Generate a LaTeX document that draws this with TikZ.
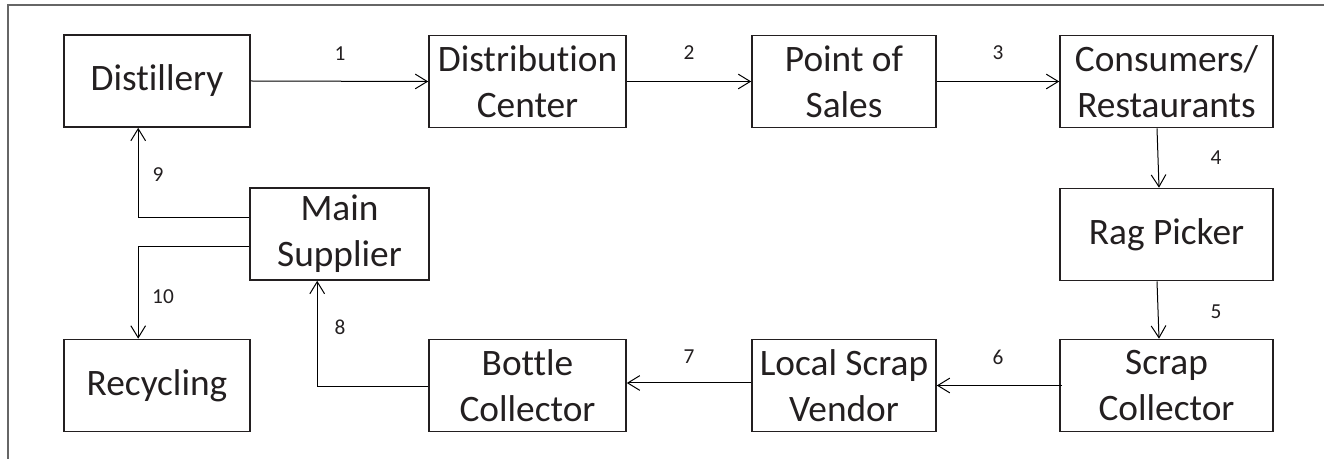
\documentclass[tikz,border=0pt]{standalone}
\usepackage{fontspec}
\setmainfont{Carlito}[Ligatures={NoCommon}]
\usetikzlibrary{arrows.meta,calc}
\definecolor{ink}{HTML}{231F20}
\begin{document}
\begin{tikzpicture}[x=0.75pt,y=-0.75pt,
  box/.style={draw=ink,line width=1.2pt,inner sep=0pt,align=center,
    minimum height=69pt,text=ink,font=\fontsize{28}{34.5}\selectfont},
  flow/.style={draw=black,line width=0.75pt,-{Straight Barb[length=9pt,width=11pt,line width=0.75pt]}},
  num/.style={inner sep=0pt,text=ink,font=\fontsize{16}{19}\selectfont}]
  \useasboundingbox (0,0) rectangle (1324,459);
  % open frame: left and top edges only
  \draw[gray!80!black,line width=0.9pt] (8,459) -- (8,5) -- (1324,5);

  % top row
  \node[box,minimum width=139.5pt] (dist) at (157,81) {Distillery};
  \node[box,minimum width=147.75pt] (dc) at (527.5,81.5) {Distribution\\Center};
  \node[box,minimum width=138pt] (pos) at (844,81.5) {Point of\\Sales};
  \node[box,minimum width=159.75pt] (cons) at (1166.5,81.5) {Consumers/\\Restaurants};
  % right column
  \node[box,minimum width=159.75pt] (rag) at (1166.5,234.5) {Rag Picker};
  \node[box,minimum width=159.75pt] (scrap) at (1166.5,385.5) {Scrap\\Collector};
  % bottom row
  \node[box,minimum width=138pt] (local) at (844,385.5) {Local Scrap\\Vendor};
  \node[box,minimum width=147.75pt] (bottle) at (527.5,385.5) {Bottle\\Collector};
  \node[box,minimum width=139.5pt] (recy) at (157,385.5) {Recycling};
  % hub
  \node[box,minimum width=134.25pt] (main) at (339.5,234) {Main\\Supplier};

  % corner points of the elbow connectors
  \coordinate (c8) at ($(bottle.west)+(-111,1.5)$);
  \coordinate (c9) at ($(main.west)+(-111,-16)$);
  \coordinate (c10) at ($(main.west)+(-111,13)$);

  % connectors
  \draw[flow] (dist.east) -- (dc.west);
  \draw[flow] (dc.east) -- (pos.west);
  \draw[flow] (pos.east) -- (cons.west);
  \draw[flow] ($(cons.south)+(-9.5,0)$) -- ($(rag.north)+(-7.5,0)$);
  \draw[flow] ($(rag.south)+(-9.5,0)$) -- ($(scrap.north)+(-7.5,0)$);
  \draw[flow] ($(scrap.west)+(3,0)$) -- (local.east);
  \draw[flow] ($(local.west)+(0,-2.5)$) -- ($(bottle.east)+(0,-2.5)$);
  \draw[flow] ($(bottle.west)+(0,1.5)$) -- (c8) -- (c8 |- main.south);
  \draw[flow] ($(main.west)+(0,-16)$) -- (c9) -- (c9 |- dist.south);
  \draw[flow] ($(main.west)+(0,13)$) -- (c10) -- (c10 |- recy.north);

  % step numbers
  \node[num] (n1) at (340,54) {1};
  \node[num] (n2) at (689,53) {2};
  \node[num] (n3) at (998,53) {3};
  \node[num] (n4) at (1216,158) {4};
  \node[num] (n5) at (1216,312) {5};
  \node[num] (n6) at (998,357) {6};
  \node[num] (n7) at (689,357) {7};
  \node[num] (n8) at (340,327) {8};
  \node[num] (n9) at (158,175) {9};
  \node[num] (n10) at (163,297) {10};
\end{tikzpicture}
\end{document}
